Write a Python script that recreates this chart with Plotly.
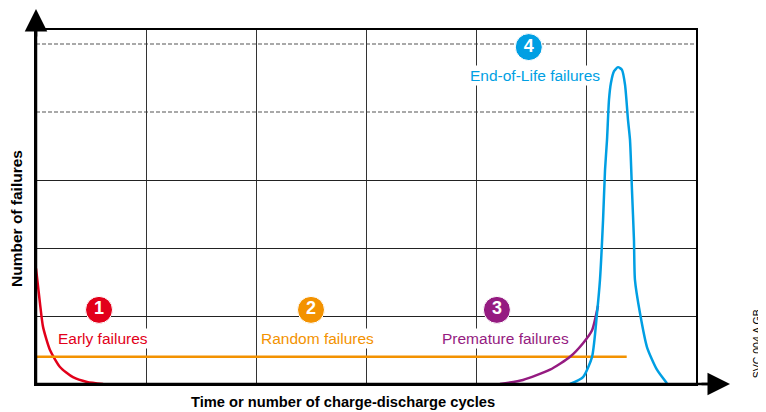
import plotly.graph_objects as go

# ---- data ----
early_x = [0.0, 0.036, 0.064, 0.127, 0.218, 0.336, 0.464, 0.61]
early_y = [1.70, 1.19, 0.84, 0.50, 0.25, 0.10, 0.03, 0.0]

random_x = [0.0, 5.37]
random_y = [0.40, 0.40]

premature_x = [4.218, 4.427, 4.673, 4.855, 4.973, 5.055, 5.109]
premature_y = [0.0, 0.06, 0.21, 0.40, 0.60, 0.79, 1.15]

eol_x = [4.855, 4.973, 5.055, 5.100, 5.127, 5.155, 5.173, 5.191, 5.209, 5.227, 5.255, 5.291,
         5.327, 5.355, 5.382, 5.400, 5.418, 5.436, 5.445, 5.491, 5.555, 5.645, 5.736]
eol_y = [0.0, 0.10, 0.40, 1.04, 1.53, 2.41, 3.15, 3.59, 4.18, 4.43, 4.60, 4.66,
         4.62, 4.40, 3.88, 3.59, 2.85, 2.12, 1.53, 1.04, 0.54, 0.21, 0.01]

series_names = ["Early failures", "Random failures", "Premature failures", "End-of-Life failures"]
series_numbers = ["1", "2", "3", "4"]
colors = ["#e2001a", "#f39200", "#951b81", "#009fe3"]

x_title = "Time or number of charge-discharge cycles"
y_title = "Number of failures"
ref_code = "SVC 004 A GB"

# label anchor positions (data units)
badge_pos = [(0.573, 1.09), (2.50, 1.09), (4.19, 1.09), (4.48, 4.955)]
text_pos = [(0.609, 0.676), (2.555, 0.676), (4.264, 0.676), (4.536, 4.53)]

FONT = "Liberation Sans, Arial, Helvetica, sans-serif"

fig = go.Figure()

curves = [(early_x, early_y, True), (random_x, random_y, False),
          (premature_x, premature_y, True), (eol_x, eol_y, True)]
for (xs, ys, smooth), col, name in zip(curves, colors, series_names):
    fig.add_trace(go.Scatter(
        x=xs, y=ys, mode="lines", name=name,
        line=dict(color=col, width=2.5, shape="spline" if smooth else "linear", smoothing=0.6),
        hoverinfo="skip", showlegend=False))

# dashed horizontal lines
for yv in [4, 5]:
    fig.add_shape(type="line", xref="x", yref="y", x0=0, x1=6, y0=yv, y1=yv,
                  line=dict(color="#555555", width=1.2, dash="4px,2px"), layer="below")

# text labels with white background
for (tx, ty), name, col in zip(text_pos, series_names, colors):
    fig.add_annotation(x=tx, y=ty, xref="x", yref="y", text=name, showarrow=False,
                       xanchor="center", yanchor="middle",
                       font=dict(family=FONT, size=15.5, color=col), bgcolor="white",
                       borderpad=1)

# numbered badges
fig.add_trace(go.Scatter(
    x=[p[0] for p in badge_pos], y=[p[1] for p in badge_pos],
    mode="markers+text", text=["<b>%s</b>" % n for n in series_numbers],
    textposition="middle center",
    textfont=dict(family=FONT, size=18, color="white"),
    marker=dict(size=27, color=colors, line=dict(color="white", width=1)),
    hoverinfo="skip", showlegend=False, cliponaxis=False))

# axis arrows (lines + heads)
fig.add_shape(type="line", xref="paper", yref="paper", x0=0, x1=1.04, y0=0, y1=0,
              line=dict(color="black", width=2.5))
fig.add_shape(type="line", xref="paper", yref="paper", x0=0, x1=0, y0=0, y1=1.04,
              line=dict(color="black", width=2.5))
fig.add_annotation(x=1.0515, y=0, xref="paper", yref="paper", ax=-30, ay=0,
                   showarrow=True, arrowhead=2, arrowsize=1.8, arrowwidth=2.5,
                   arrowcolor="black", text="")
fig.add_annotation(x=0, y=1.062, xref="paper", yref="paper", ax=0, ay=30,
                   showarrow=True, arrowhead=2, arrowsize=1.8, arrowwidth=2.5,
                   arrowcolor="black", text="")

# axis titles and code
fig.add_annotation(x=0.465, y=-0.051, xref="paper", yref="paper", text="<b>%s</b>" % x_title,
                   showarrow=False, xanchor="center", yanchor="middle",
                   font=dict(family=FONT, size=14.7, color="black"))
fig.add_annotation(x=-0.0288, y=0.469, xref="paper", yref="paper", text="<b>%s</b>" % y_title,
                   showarrow=False, textangle=-90, xanchor="center", yanchor="middle",
                   font=dict(family=FONT, size=15.5, color="black"))
fig.add_annotation(x=1.1045, y=0.012, xref="paper", yref="paper", text=ref_code,
                   showarrow=False, textangle=-90, xanchor="right", yanchor="bottom",
                   font=dict(family=FONT, size=10.5, color="black"))

fig.update_xaxes(range=[0, 6], tickvals=[1, 2, 3, 4, 5], showticklabels=False, ticks="",
                 showgrid=True, gridcolor="#333333", gridwidth=1, zeroline=False,
                 showline=True, linecolor="black", linewidth=2, mirror=True, fixedrange=True)
fig.update_yaxes(range=[0, 5.206], tickvals=[1, 2, 3], showticklabels=False, ticks="",
                 showgrid=True, gridcolor="#222222", gridwidth=1, zeroline=False,
                 showline=True, linecolor="black", linewidth=2, mirror=True, fixedrange=True)

# the page body adds an 8px offset, so the figure is 8px smaller and margins shifted
fig.update_layout(width=758, height=404, margin=dict(l=28, r=70, t=22, b=28),
                  plot_bgcolor="white", paper_bgcolor="white", showlegend=False,
                  font=dict(family=FONT))

fig.write_html("out.html")
